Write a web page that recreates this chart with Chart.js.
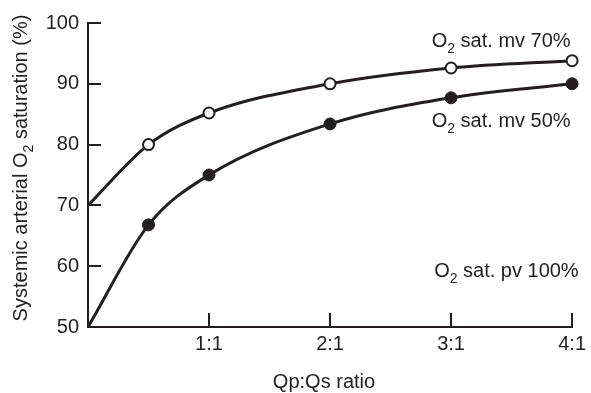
<!DOCTYPE html>
<html>
<head>
<meta charset="utf-8">
<script src="https://cdn.jsdelivr.net/npm/chart.js@4.4.1/dist/chart.umd.min.js"></script>
<style>
  html, body { margin: 0; padding: 0; background: #fff; }
  #wrap { width: 591px; height: 393px; }
</style>
</head>
<body>
<div id="wrap"><canvas id="satChart" width="591" height="393"></canvas></div>
<script>
// Qp:Qs ratio (x) vs systemic arterial O2 saturation (%)
const ratios = [0, 0.5, 1, 2, 3, 4];
const satMv70 = [70, 80, 85.2, 90, 92.6, 93.8];
const satMv50 = [50, 66.8, 75, 83.4, 87.7, 90];
const xTicks = [1, 2, 3, 4];
const xTickLabels = ['1:1', '2:1', '3:1', '4:1'];
const yTicks = [50, 60, 70, 80, 90, 100];

const INK = '#231f20';
const FONT = '"Liberation Sans", Arial, Helvetica, sans-serif';
const FS = 20;

function toPoints(ys) {
    return ratios.map((x, i) => ({ x: x, y: ys[i] }));
}

// text with a subscript part, parts = [[text, isSub], ...]
function drawRich(ctx, parts, x, y, align) {
    const big = FS + 'px ' + FONT;
    const small = Math.round(FS * 0.72) + 'px ' + FONT;
    let total = 0;
    parts.forEach(p => {
        ctx.font = p[1] ? small : big;
        total += ctx.measureText(p[0]).width;
    });
    let cx = x;
    if (align === 'center') cx = x - total / 2;
    if (align === 'right') cx = x - total;
    ctx.textAlign = 'left';
    ctx.textBaseline = 'alphabetic';
    ctx.fillStyle = INK;
    parts.forEach(p => {
        ctx.font = p[1] ? small : big;
        ctx.fillText(p[0], cx, p[1] ? y + FS * 0.3 : y);
        cx += ctx.measureText(p[0]).width;
    });
}

const extras = {
    id: 'extras',
    afterDraw(chart) {
        const ctx = chart.ctx;
        const xs = chart.scales.x, ys = chart.scales.y;
        const x0 = xs.getPixelForValue(0), y0 = ys.getPixelForValue(50);
        ctx.save();
        // inward tick marks
        ctx.strokeStyle = INK;
        ctx.lineWidth = 2;
        ctx.beginPath();
        xTicks.forEach(v => {
            const px = Math.round(xs.getPixelForValue(v));
            ctx.moveTo(px, y0);
            ctx.lineTo(px, y0 - 14);
        });
        yTicks.slice(1).forEach(v => {
            const py = Math.round(ys.getPixelForValue(v));
            ctx.moveTo(x0, py);
            ctx.lineTo(x0 + 13, py);
        });
        ctx.stroke();

        // curve labels
        drawRich(ctx, [['O', false], ['2', true], [' sat. mv 70%', false]],
            xs.getPixelForValue(2.84), ys.getPixelForValue(96.1), 'left');
        drawRich(ctx, [['O', false], ['2', true], [' sat. mv 50%', false]],
            xs.getPixelForValue(2.84), ys.getPixelForValue(82.9), 'left');
        drawRich(ctx, [['O', false], ['2', true], [' sat. pv 100%', false]],
            xs.getPixelForValue(2.86), ys.getPixelForValue(58.3), 'left');

        // axis titles
        drawRich(ctx, [['Qp:Qs ratio', false]], 324, 388, 'center');
        ctx.translate(27, 168);
        ctx.rotate(-Math.PI / 2);
        drawRich(ctx, [['Systemic arterial O', false], ['2', true], [' saturation (%)', false]], 0, 0, 'center');
        ctx.restore();
    }
};

const ctx = document.getElementById('satChart').getContext('2d');
const satChart = new Chart(ctx, {
    type: 'line',
    data: {
        datasets: [{
            label: 'O2 sat. mv 70%',
            data: toPoints(satMv70),
            borderColor: INK,
            borderWidth: 3,
            cubicInterpolationMode: 'monotone',
            pointRadius: [0, 5.5, 5.5, 5.5, 5.5, 5.5],
            pointBackgroundColor: '#fff',
            pointBorderColor: INK,
            pointBorderWidth: 2,
            fill: false,
            clip: false
        }, {
            label: 'O2 sat. mv 50%',
            data: toPoints(satMv50),
            borderColor: INK,
            borderWidth: 3,
            cubicInterpolationMode: 'monotone',
            pointRadius: [0, 6, 6, 6, 6, 6],
            pointBackgroundColor: INK,
            pointBorderColor: INK,
            pointBorderWidth: 1,
            fill: false,
            clip: false
        }]
    },
    options: {
        responsive: false,
        animation: false,
        layout: { padding: { top: 23, right: 18, left: 0, bottom: 0 } },
        plugins: {
            legend: { display: false },
            tooltip: { enabled: false }
        },
        scales: {
            x: {
                type: 'linear',
                min: 0,
                max: 4,
                afterBuildTicks: s => { s.ticks = xTicks.map(v => ({ value: v })); },
                afterFit: s => { s.height = 66; },
                grid: { display: false, drawTicks: false },
                border: { display: true, color: INK, width: 2 },
                ticks: {
                    color: INK,
                    padding: 5,
                    maxRotation: 0,
                    font: { family: FONT, size: FS },
                    callback: v => xTickLabels[xTicks.indexOf(v)]
                }
            },
            y: {
                min: 50,
                max: 100,
                afterBuildTicks: s => { s.ticks = yTicks.map(v => ({ value: v })); },
                afterFit: s => { s.width = 88; },
                grid: { display: false, drawTicks: false },
                border: { display: true, color: INK, width: 2 },
                ticks: {
                    color: INK,
                    padding: 9,
                    font: { family: FONT, size: FS }
                }
            }
        }
    },
    plugins: [extras]
});
</script>
</body>
</html>
